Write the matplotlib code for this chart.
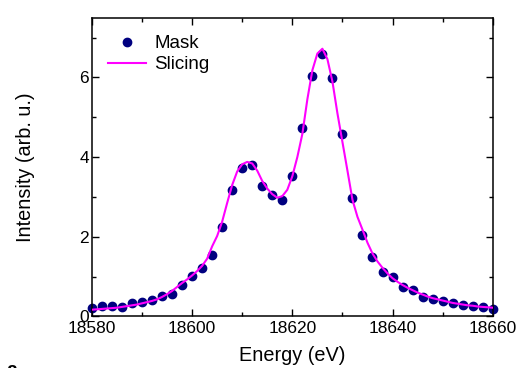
import matplotlib
matplotlib.use('Agg')
import matplotlib.pyplot as plt
from matplotlib.ticker import MultipleLocator

plt.rcParams['font.family'] = ['Liberation Sans', 'DejaVu Sans']

# Mask data points (every 2 eV)
mask_energy = list(range(18580, 18661, 2))
mask_intensity = [0.22, 0.27, 0.27, 0.24, 0.34, 0.37, 0.42, 0.51, 0.57, 0.80,
                  1.01, 1.22, 1.54, 2.24, 3.17, 3.73, 3.80, 3.28, 3.05, 2.93,
                  3.53, 4.73, 6.03, 6.58, 5.99, 4.57, 2.97, 2.05, 1.49, 1.12,
                  0.98, 0.74, 0.66, 0.49, 0.44, 0.39, 0.33, 0.29, 0.26, 0.23,
                  0.20]

# Slicing curve (read every 1 eV)
slice_energy = list(range(18580, 18661))
slice_intensity = [0.17, 0.18, 0.19, 0.20, 0.21, 0.22, 0.24, 0.26, 0.28, 0.30,
                   0.33, 0.36, 0.39, 0.43, 0.49, 0.56, 0.64, 0.74, 0.84, 0.93,
                   1.03, 1.14, 1.27, 1.45, 1.76, 2.02, 2.38, 2.85, 3.30, 3.64,
                   3.82, 3.88, 3.84, 3.66, 3.40, 3.21, 3.07, 2.98, 3.02, 3.18,
                   3.52, 4.00, 4.58, 5.45, 6.18, 6.60, 6.72, 6.46, 5.90, 5.10,
                   4.38, 3.66, 2.93, 2.50, 2.18, 1.85, 1.58, 1.38, 1.22, 1.08,
                   0.96, 0.87, 0.79, 0.72, 0.66, 0.60, 0.55, 0.50, 0.46, 0.43,
                   0.40, 0.37, 0.34, 0.32, 0.30, 0.28, 0.27, 0.25, 0.24, 0.23,
                   0.22]

fig = plt.figure(figsize=(5.22, 3.68), dpi=100)
ax = fig.add_axes([0.176, 0.140, 0.768, 0.812])

ax.plot(mask_energy, mask_intensity, 'o', color='#000080', ms=6, label='Mask',
        zorder=2, clip_on=False)
ax.plot(slice_energy, slice_intensity, '-', color='#FF00FF', lw=1.5,
        label='Slicing', zorder=3)

ax.set_xlim(18580, 18660)
ax.set_ylim(0, 7.5)
ax.xaxis.set_major_locator(MultipleLocator(20))
ax.xaxis.set_minor_locator(MultipleLocator(10))
ax.yaxis.set_major_locator(MultipleLocator(2))
ax.yaxis.set_minor_locator(MultipleLocator(1))
ax.tick_params(which='both', direction='in', top=True, right=True,
               labelsize=12.5, width=1)
ax.tick_params(which='major', length=5, pad=2)
ax.tick_params(axis='x', which='major', pad=3.5)
ax.tick_params(which='minor', length=3)
for s in ax.spines.values():
    s.set_linewidth(1.1)

ax.set_xlabel('Energy (eV)', fontsize=14.3, labelpad=7)
ax.set_ylabel('Intensity (arb. u.)', fontsize=14.3, labelpad=32)

ax.legend(loc='upper left', frameon=False, fontsize=13.5, handlelength=2.0,
          handletextpad=0.45, borderaxespad=0.3, labelspacing=0.2,
          bbox_to_anchor=(0.008, 0.985))

fig.text(0.012, -0.02, 'a', fontsize=14, fontweight='bold')

fig.savefig('out.png', dpi=100)
